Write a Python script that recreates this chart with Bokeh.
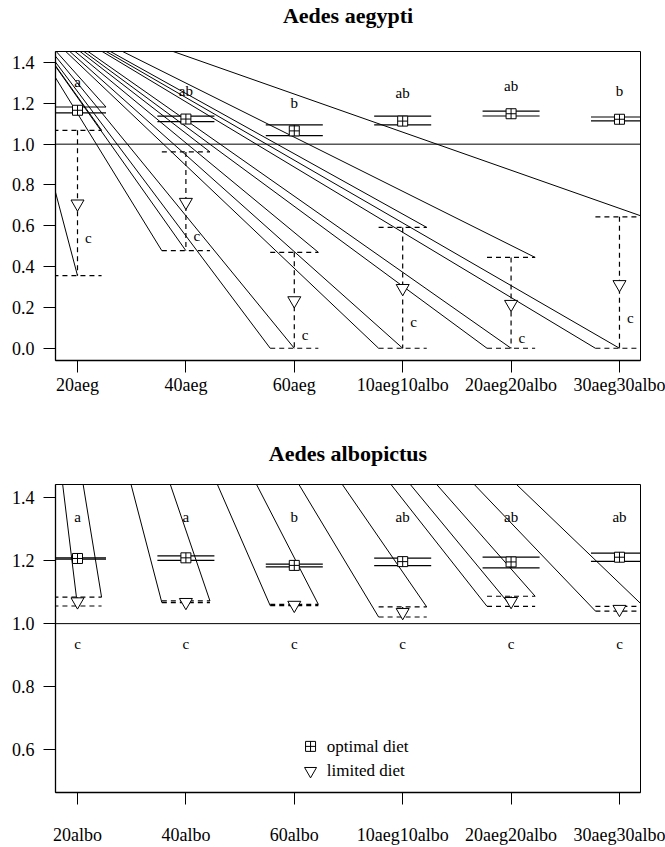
import numpy as np
from bokeh.plotting import figure
from bokeh.layouts import column
from bokeh.models import Range1d, FixedTicker, Span
from bokeh.core.properties import value
from bokeh.embed import file_html
from bokeh.resources import INLINE

# ---------------- data ----------------
aeg_groups = ["20aeg", "40aeg", "60aeg", "10aeg10albo", "20aeg20albo", "30aeg30albo"]
aeg_opt_mean = [1.166, 1.123, 1.065, 1.113, 1.149, 1.122]
aeg_opt_lo = [1.153, 1.110, 1.042, 1.094, 1.138, 1.114]
aeg_opt_hi = [1.182, 1.137, 1.094, 1.137, 1.162, 1.133]
aeg_lim_mean = [0.708, 0.716, 0.234, 0.294, 0.216, 0.313]
aeg_lim_lo = [0.356, 0.478, 0.0, 0.0, 0.0, 0.0]
aeg_lim_hi = [1.068, 0.962, 0.470, 0.592, 0.445, 0.644]
aeg_letters_opt = ["a", "ab", "b", "ab", "ab", "b"]
aeg_letters_lim = ["c", "c", "c", "c", "c", "c"]
aeg_streak_center = [1, 1, 1, 1, 1, 1]
aeg_opt_streak = [1, 0, 0, 0, 0, 0]

albo_groups = ["20albo", "40albo", "60albo", "10aeg10albo", "20aeg20albo", "30aeg30albo"]
albo_opt_mean = [1.207, 1.209, 1.185, 1.197, 1.196, 1.211]
albo_opt_lo = [1.205, 1.201, 1.180, 1.184, 1.177, 1.198]
albo_opt_hi = [1.209, 1.215, 1.189, 1.208, 1.211, 1.224]
albo_lim_mean = [1.070, 1.068, 1.059, 1.036, 1.071, 1.046]
albo_lim_lo = [1.056, 1.067, 1.057, 1.021, 1.055, 1.040]
albo_lim_hi = [1.084, 1.072, 1.061, 1.053, 1.087, 1.055]
albo_letters_opt = ["a", "a", "b", "ab", "ab", "ab"]
albo_letters_lim = ["c", "c", "c", "c", "c", "c"]
albo_streak_center = [1, 0, 0, 0, 1, 0]
albo_opt_streak = [0, 0, 0, 0, 0, 0]

legend_labels = ["optimal diet", "limited diet"]
titles = ["Aedes aegypti", "Aedes albopictus"]

# ---------------- layout constants ----------------
W = 665
FONT = "Liberation Serif"
FR_LEFT, FR_RIGHT = 55, 640
X_START, X_END = 0.797, 6.194
OPT_HW, LIM_HW = 0.263, 0.222
APEX_PAGE = (2.0, -9.0)   # page-pixel point where the stray lines meet


def title_bar(text, height, text_center_from_top):
    t = figure(width=W, height=height, output_backend="svg", toolbar_location=None,
               x_range=Range1d(0, 1), y_range=Range1d(0, 1),
               min_border_left=FR_LEFT, min_border_right=W - FR_RIGHT,
               min_border_top=0, min_border_bottom=0)
    t.axis.visible = False
    t.grid.visible = False
    t.outline_line_color = None
    t.background_fill_color = "white"
    t.border_fill_color = "white"
    t.text(x=[0.5], y=[1 - text_center_from_top / height], text=[text],
           text_font=value(FONT), text_font_size="22px", text_font_style="bold",
           text_align="center", text_baseline="middle", text_color="black")
    return t


def make_panel(labels, opt_m, opt_lo, opt_hi, lim_m, lim_lo, lim_hi,
               let_opt, let_lim, streak_c, opt_streak, y_rng, ticks, height, page_top,
               fr_bottom, label_standoff, opt_letter_y, lim_letter_y, lim_letter_dx,
               legend=False):
    xs = np.arange(1, len(labels) + 1, dtype=float)
    fr_top = page_top + 1
    p = figure(width=W, height=height, output_backend="svg", toolbar_location=None,
               x_range=Range1d(X_START, X_END), y_range=Range1d(*y_rng),
               min_border_left=FR_LEFT, min_border_right=W - FR_RIGHT,
               min_border_top=1,
               min_border_bottom=page_top + height - fr_bottom)
    p.xgrid.visible = False
    p.ygrid.visible = False
    p.outline_line_color = "black"
    p.outline_line_width = 1
    p.background_fill_color = "white"
    p.border_fill_color = "white"

    fh = fr_bottom - fr_top
    sx = (FR_RIGHT - FR_LEFT) / (X_END - X_START)
    sy = fh / (y_rng[1] - y_rng[0])

    for ax in (p.xaxis[0], p.yaxis[0]):
        ax.axis_line_color = "black"
        ax.axis_line_width = 1.3
        ax.major_tick_line_color = "black"
        ax.major_tick_out = 12
        ax.major_tick_in = 0
        ax.minor_tick_line_color = None
        ax.major_label_text_font = FONT
        ax.major_label_text_font_size = "18px"
        ax.major_label_text_color = "black"
    p.xaxis.ticker = FixedTicker(ticks=list(xs))
    p.xaxis.major_label_overrides = {float(x): l for x, l in zip(xs, labels)}
    p.xaxis.major_label_standoff = label_standoff
    p.yaxis.ticker = FixedTicker(ticks=ticks)
    p.yaxis.major_label_overrides = {t: f"{t:.1f}" for t in ticks}
    p.yaxis.major_label_orientation = "horizontal"
    p.yaxis.major_label_standoff = 9

    # reference line at 1
    p.add_layout(Span(location=1.0, dimension="width", line_color="black", line_width=1))

    # stray lines (drawing artefact): from a common page point to bar ends
    ax_ = X_START + (APEX_PAGE[0] - FR_LEFT) / sx
    ay_ = y_rng[1] + (fr_top - APEX_PAGE[1]) / sy
    ex, ey = [], []
    for i, x in enumerate(xs):
        ex += [x + LIM_HW, x - LIM_HW]
        ey += [lim_hi[i], lim_lo[i]]
        if streak_c[i]:
            ex.append(x)
            ey.append(lim_lo[i])
        if opt_streak[i]:
            ex.append(x + OPT_HW)
            ey.append(opt_hi[i])
    p.segment(x0=[ax_] * len(ex), y0=[ay_] * len(ex), x1=ex, y1=ey,
              line_color="black", line_width=1)

    # optimal diet bars
    p.segment(x0=list(xs - OPT_HW), y0=opt_hi, x1=list(xs + OPT_HW), y1=opt_hi,
              line_color="black", line_width=1.2)
    p.segment(x0=list(xs - OPT_HW), y0=opt_lo, x1=list(xs + OPT_HW), y1=opt_lo,
              line_color="black", line_width=1.2)
    p.segment(x0=list(xs), y0=opt_lo, x1=list(xs), y1=opt_hi, line_color="black", line_width=1)
    # limited diet bars (dashed)
    for yy in (lim_hi, lim_lo):
        p.segment(x0=list(xs - LIM_HW), y0=yy, x1=list(xs + LIM_HW), y1=yy,
                  line_color="black", line_width=1.2, line_dash="5 4")
    p.segment(x0=list(xs), y0=lim_hi, x1=list(xs), y1=lim_lo,
              line_color="black", line_width=1.2, line_dash="5 4")

    p.scatter(xs, opt_m, marker="square_cross", size=10, fill_color="white",
              line_color="black", line_width=1)
    p.scatter(xs, lim_m, marker="inverted_triangle", size=13, fill_color="white",
              line_color="black", line_width=1)

    p.text(x=list(xs), y=opt_letter_y, text=let_opt, text_font=value(FONT),
           text_font_size="15px", text_align="center", text_baseline="middle",
           text_color="black")
    p.text(x=list(xs + lim_letter_dx), y=lim_letter_y, text=let_lim, text_font=value(FONT),
           text_font_size="15px", text_align="center", text_baseline="middle",
           text_color="black")

    if legend:
        lx, ly0, dy = 3.15, 0.61, 0.078
        p.scatter([lx], [ly0], marker="square_cross", size=10, fill_color="white",
                  line_color="black")
        p.scatter([lx], [ly0 - dy], marker="inverted_triangle", size=12,
                  fill_color="white", line_color="black")
        p.text(x=[lx + 0.15, lx + 0.15], y=[ly0, ly0 - dy], text=legend_labels,
               text_font=value(FONT), text_font_size="17px", text_align="left",
               text_baseline="middle", text_color="black")
    return p


t1 = title_bar(titles[0], 50, 15)
p1 = make_panel(aeg_groups, aeg_opt_mean, aeg_opt_lo, aeg_opt_hi,
                aeg_lim_mean, aeg_lim_lo, aeg_lim_hi, aeg_letters_opt, aeg_letters_lim,
                aeg_streak_center, aeg_opt_streak, (-0.060, 1.454),
                [0.0, 0.2, 0.4, 0.6, 0.8, 1.0, 1.2, 1.4],
                380, 50, 360, 2,
                [m + 0.137 for m in aeg_opt_mean], [m - 0.167 for m in aeg_lim_mean], 0.1)

t2 = title_bar(titles[1], 53, 23)
p2 = make_panel(albo_groups, albo_opt_mean, albo_opt_lo, albo_opt_hi,
                albo_lim_mean, albo_lim_lo, albo_lim_hi, albo_letters_opt, albo_letters_lim,
                albo_streak_center, albo_opt_streak, (0.4635, 1.442), [0.6, 0.8, 1.0, 1.2, 1.4],
                364, 483, 792, 20,
                [1.34] * 6, [0.934] * 6, 0.0, legend=True)

layout = column(t1, p1, t2, p2, spacing=0)
open("out.html", "w").write(file_html(layout, INLINE))
